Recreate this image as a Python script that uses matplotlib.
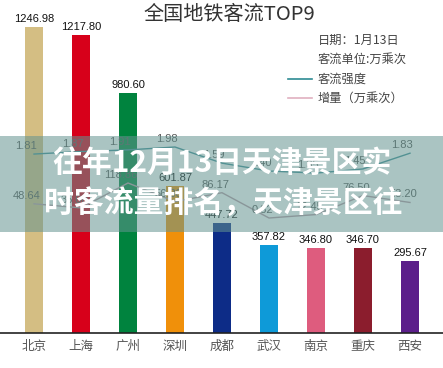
import matplotlib
matplotlib.use("Agg")
import matplotlib.pyplot as plt
from matplotlib.patches import Rectangle

plt.rcParams['font.family'] = ['Noto Sans CJK SC', 'DejaVu Sans']

cities = ['北京', '上海', '广州', '深圳', '成都', '武汉', '南京', '重庆', '西安']
ridership = [1246.98, 1217.80, 980.60, 601.87, 447.72, 357.82, 346.80, 346.70, 295.67]
intensity = [1.81, 1.87, 1.91, 1.98, 1.59, 1.40, 1.35, 1.45, 1.83]
increase = [48.64, 35.00, 118.86, 56.30, 86.17, 0.82, 12.45, 76.50, 53.20]
bar_colors = ['#D4BE83', '#D7001A', '#00833E', '#F0900A', '#0D2C87',
              '#0E9AD8', '#DE5C7E', '#8B1D2D', '#5B1E8A']

title = '全国地铁客流TOP9'
legend_date = '日期：1月13日'
legend_unit = '客流单位:万乘次'
legend_l1 = '客流强度'
legend_l2 = '增量（万乘次）'
banner1 = '往年12月13日天津景区实'
banner2 = '时客流量排名，天津景区往'

W, H = 443, 368
fig = plt.figure(figsize=(W / 100, H / 100), dpi=100)
fig.patch.set_facecolor('white')

base = 35
ax = fig.add_axes([0, base / H, 1, (H - base) / H])
x = list(range(len(cities)))
ax.bar(x, ridership, width=0.39, color=bar_colors, zorder=2)
ax.set_xlim(-34 / 47, (W - 34) / 47)
ax.set_ylim(0, (H - base) / 0.245)
for s in ['top', 'left', 'right']:
    ax.spines[s].set_visible(False)
ax.spines['bottom'].set_color('#222222')
ax.spines['bottom'].set_linewidth(1.2)
ax.set_yticks([])
ax.set_xticks(x)
ax.set_xticklabels(cities, fontsize=9, color='#555555')
ax.tick_params(axis='x', length=0, pad=5)
for xi, v in zip(x, ridership):
    ax.annotate(f'{v:.2f}', (xi, v), xytext=(0, 3), textcoords='offset pixels',
                ha='center', va='bottom', fontsize=8, color='#111111',
                family=['Liberation Sans', 'DejaVu Sans'])

# intensity line (twin axis)
ax2 = ax.twinx()
ax2.set_axis_off()
ax2.set_xlim(ax.get_xlim())
k2 = 41.4
lo2 = 1.98 - 186 / k2
ax2.set_ylim(lo2, lo2 + (H - base) / k2)
ax2.plot(x, intensity, color='#3F8F98', lw=1.0)
for xi, v in zip(x, intensity):
    ax2.annotate(f'{v:.2f}', (xi, v), xytext=(-8, 3), textcoords='offset pixels',
                 ha='center', va='bottom', fontsize=8, color='#555555',
                 family=['Liberation Sans', 'DejaVu Sans'])

# increase line (twin axis)
ax3 = ax.twinx()
ax3.set_axis_off()
ax3.set_xlim(ax.get_xlim())
k3 = 0.2965
lo3 = 0.82 - 115 / k3
ax3.set_ylim(lo3, lo3 + (H - base) / k3)
ax3.plot(x, increase, color='#B89AA6', lw=1.0)
for xi, v in zip(x, increase):
    ax3.annotate(f'{v:.2f}', (xi, v), xytext=(-7, 3), textcoords='offset pixels',
                 ha='center', va='bottom', fontsize=8, color='#555555',
                 family=['Liberation Sans', 'DejaVu Sans'])

# title and legend
fig.text(229 / W, 1 - 15 / H, title, fontsize=14.5, color='#333333',
         ha='center', va='center')
lx = 318 / W
fig.text(lx, 1 - 40 / H, legend_date, fontsize=8.8, color='#444444', va='center')
fig.text(lx, 1 - 59 / H, legend_unit, fontsize=8.8, color='#444444', va='center')
fig.text(lx, 1 - 79 / H, legend_l1, fontsize=8.8, color='#444444', va='center')
fig.text(lx, 1 - 98 / H, legend_l2, fontsize=8.8, color='#444444', va='center')
fig.add_artist(plt.Line2D([288 / W, 312 / W], [1 - 79 / H, 1 - 79 / H],
                          color='#2E8B93', lw=1.2))
fig.add_artist(plt.Line2D([288 / W, 312 / W], [1 - 98 / H, 1 - 98 / H],
                          color='#E0B0C0', lw=1.2))

# translucent banner overlay
rect = Rectangle((0, 1 - 232 / H), 1, 96 / H, transform=fig.transFigure,
                 facecolor=(100 / 255, 148 / 255, 144 / 255), alpha=0.55,
                 edgecolor='none', zorder=10)
fig.add_artist(rect)
fig.text(222 / W, 1 - 163 / H, banner1, fontsize=21.5, fontweight='bold',
         color='white', ha='center', va='center', zorder=11)
fig.text(223 / W, 1 - 203 / H, banner2, fontsize=21.5, fontweight='bold',
         color='white', ha='center', va='center', zorder=11)

fig.savefig('out.png', dpi=100)
